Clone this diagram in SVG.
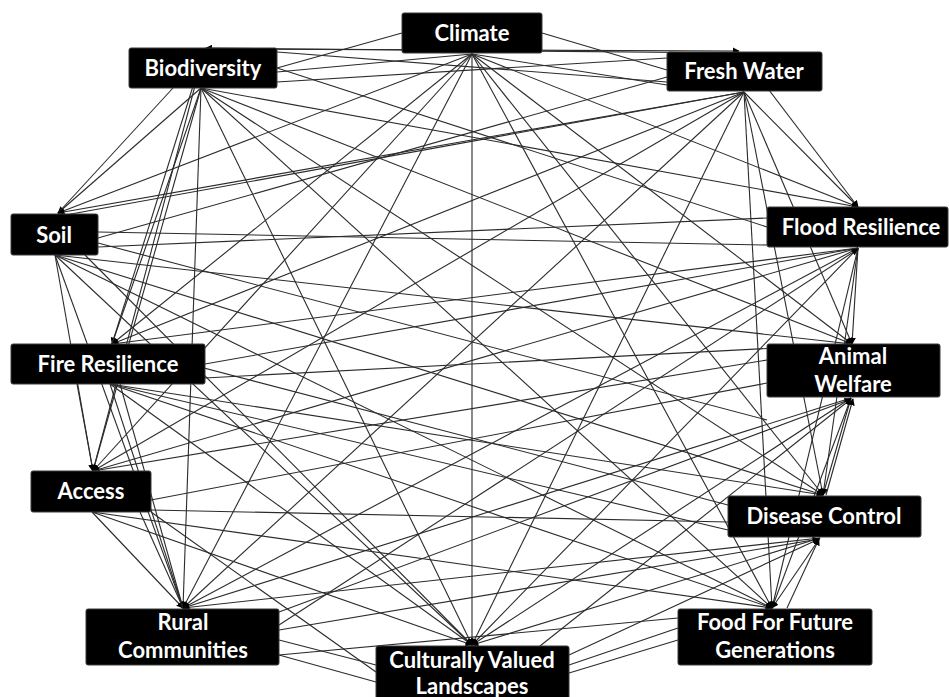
<svg xmlns="http://www.w3.org/2000/svg" width="949" height="697" viewBox="0 0 949 697">
<style>
.bg{fill:#ffffff}
#connectors line{stroke:#2b2b2b;stroke-width:1.1;fill:none}
#connectors line.a{marker-end:url(#arr)}
.box{fill:#000000;stroke:#3a3a3a;stroke-width:1}
.lbl{font-family:Lato,"Open Sans","Liberation Sans",sans-serif;font-weight:bold;font-size:22px;fill:#ffffff;text-anchor:middle}
</style>
<defs>
<marker id="arr" viewBox="0 0 10 10" refX="9" refY="5" markerWidth="7" markerHeight="7" orient="auto" markerUnits="userSpaceOnUse">
<path d="M0,0 L10,5 L0,10 z" fill="#000"/>
</marker>
</defs>
<rect class="bg" x="0" y="0" width="949" height="697"/>
<g id="connectors">
<!-- Climate -->
<line class="a" x1="472" y1="54" x2="58" y2="213"/>
<line class="a" x1="472" y1="54" x2="112" y2="344"/>
<line class="a" x1="472" y1="54" x2="93" y2="471"/>
<line class="a" x1="472" y1="54" x2="183" y2="608"/>
<line class="a" x1="472" y1="54" x2="472" y2="645"/>
<line class="a" x1="472" y1="54" x2="772" y2="608"/>
<line class="a" x1="472" y1="54" x2="823" y2="495"/>
<line class="a" x1="472" y1="54" x2="852" y2="344"/>
<line class="a" x1="472" y1="54" x2="858" y2="207"/>
<line x1="472" y1="54" x2="667" y2="85"/>
<line x1="472" y1="54" x2="277" y2="72"/>
<line x1="402" y1="33" x2="277" y2="68"/>
<line x1="542" y1="33" x2="667" y2="70"/>
<line class="a" x1="740" y1="53" x2="206" y2="48"/>
<line class="a" x1="206" y1="49" x2="739" y2="51"/>
<!-- Biodiversity -->
<line class="a" x1="201" y1="88" x2="58" y2="213"/>
<line class="a" x1="201" y1="88" x2="112" y2="344"/>
<line class="a" x1="201" y1="88" x2="93" y2="471"/>
<line class="a" x1="201" y1="88" x2="183" y2="608"/>
<line class="a" x1="201" y1="88" x2="472" y2="645"/>
<line class="a" x1="201" y1="88" x2="772" y2="608"/>
<line class="a" x1="201" y1="88" x2="823" y2="495"/>
<line class="a" x1="201" y1="88" x2="852" y2="344"/>
<line class="a" x1="201" y1="88" x2="858" y2="207"/>
<line x1="205" y1="48" x2="112" y2="344"/>
<line x1="205" y1="48" x2="93" y2="471"/>
<line x1="277" y1="68" x2="767" y2="227"/>
<line x1="173" y1="88" x2="58" y2="213"/>
<!-- Fresh Water -->
<line class="a" x1="744" y1="92" x2="58" y2="213"/>
<line x1="744" y1="92" x2="60" y2="216"/>
<line class="a" x1="744" y1="92" x2="112" y2="344"/>
<line class="a" x1="744" y1="92" x2="93" y2="471"/>
<line class="a" x1="744" y1="92" x2="183" y2="608"/>
<line class="a" x1="744" y1="92" x2="472" y2="645"/>
<line class="a" x1="744" y1="92" x2="772" y2="608"/>
<line class="a" x1="744" y1="92" x2="823" y2="495"/>
<line class="a" x1="744" y1="92" x2="852" y2="344"/>
<line class="a" x1="744" y1="92" x2="858" y2="207"/>
<line class="a" x1="740" y1="52" x2="858" y2="207"/>
<line x1="667" y1="77" x2="98" y2="238"/>
<line x1="667" y1="58" x2="277" y2="82"/>
<line x1="667" y1="82" x2="277" y2="52"/>
<!-- Soil -->
<line class="a" x1="55" y1="255" x2="93" y2="471"/>
<line class="a" x1="55" y1="255" x2="183" y2="608"/>
<line class="a" x1="55" y1="255" x2="472" y2="645"/>
<line class="a" x1="55" y1="255" x2="772" y2="608"/>
<line class="a" x1="55" y1="255" x2="823" y2="495"/>
<line class="a" x1="55" y1="255" x2="852" y2="344"/>
<line x1="98" y1="232" x2="767" y2="245"/>
<line x1="98" y1="247" x2="767" y2="218"/>
<line x1="98" y1="243" x2="767" y2="420"/>
<line x1="85" y1="255" x2="472" y2="645"/>
<!-- Fire Resilience -->
<line class="a" x1="77" y1="384" x2="93" y2="471"/>
<line class="a" x1="110" y1="384" x2="183" y2="608"/>
<line class="a" x1="110" y1="384" x2="472" y2="645"/>
<line class="a" x1="110" y1="384" x2="772" y2="608"/>
<line x1="110" y1="384" x2="728" y2="530"/>
<line class="a" x1="110" y1="384" x2="823" y2="495"/>
<line x1="205" y1="378" x2="852" y2="344"/>
<line x1="120" y1="384" x2="183" y2="608"/>
<!-- Access -->
<line class="a" x1="92" y1="512" x2="183" y2="608"/>
<line class="a" x1="92" y1="512" x2="472" y2="645"/>
<line class="a" x1="92" y1="512" x2="772" y2="608"/>
<line x1="151" y1="510" x2="728" y2="522"/>
<line x1="151" y1="500" x2="767" y2="383"/>
<line x1="151" y1="512" x2="376" y2="672"/>
<line x1="140" y1="512" x2="183" y2="608"/>
<!-- Flood Resilience -->
<line class="a" x1="858" y1="248" x2="93" y2="471"/>
<line class="a" x1="858" y1="248" x2="112" y2="344"/>
<line class="a" x1="858" y1="248" x2="183" y2="608"/>
<line class="a" x1="858" y1="248" x2="472" y2="645"/>
<line class="a" x1="858" y1="248" x2="772" y2="608"/>
<line class="a" x1="858" y1="248" x2="823" y2="495"/>
<line class="a" x1="858" y1="248" x2="852" y2="344"/>
<line x1="858" y1="248" x2="205" y2="364"/>
<!-- Animal Welfare -->
<line class="a" x1="851" y1="398" x2="823" y2="495"/>
<line class="a" x1="851" y1="398" x2="772" y2="608"/>
<line class="a" x1="851" y1="398" x2="472" y2="645"/>
<line class="a" x1="851" y1="398" x2="183" y2="608"/>
<line class="a" x1="826" y1="495" x2="853" y2="399"/>
<line x1="767" y1="360" x2="93" y2="471"/>
<!-- Disease Control -->
<line class="a" x1="820" y1="538" x2="772" y2="608"/>
<line class="a" x1="820" y1="538" x2="472" y2="645"/>
<line class="a" x1="820" y1="538" x2="183" y2="608"/>
<line class="a" x1="787" y1="608" x2="819" y2="539"/>
<line x1="728" y1="505" x2="112" y2="344"/>
<!-- Food / Culturally / Rural -->
<line x1="678" y1="618" x2="279" y2="655"/>
<line x1="678" y1="640" x2="569" y2="673"/>
<line class="a" x1="569" y1="655" x2="819" y2="539"/>
<line class="a" x1="540" y1="646" x2="851" y2="399"/>
<line class="a" x1="279" y1="625" x2="858" y2="249"/>
<line class="a" x1="279" y1="630" x2="819" y2="539"/>
<line x1="279" y1="640" x2="376" y2="665"/>
<line x1="279" y1="655" x2="376" y2="682"/>
<line class="a" x1="279" y1="612" x2="851" y2="399"/>
<line x1="569" y1="665" x2="678" y2="628"/>
</g>
<g id="climate"><rect class="box" x="402" y="13" width="140" height="40" rx="2"/><text class="lbl" x="472" y="41">Climate</text></g>
<g id="biodiversity"><rect class="box" x="129" y="48" width="148" height="40" rx="2"/><text class="lbl" x="203" y="76">Biodiversity</text></g>
<g id="fresh-water"><rect class="box" x="667" y="52" width="155" height="39" rx="2"/><text class="lbl" x="744" y="79">Fresh Water</text></g>
<g id="soil"><rect class="box" x="11" y="214" width="87" height="41" rx="2"/><text class="lbl" x="54" y="243">Soil</text></g>
<g id="flood-resilience"><rect class="box" x="767" y="207" width="181" height="40" rx="2"/><text class="lbl" x="861" y="235">Flood Resilience</text></g>
<g id="fire-resilience"><rect class="box" x="11" y="344" width="194" height="40" rx="2"/><text class="lbl" x="108" y="372">Fire Resilience</text></g>
<g id="animal-welfare"><rect class="box" x="767" y="344" width="173" height="53" rx="2"/><text class="lbl" x="853" y="364">Animal</text><text class="lbl" x="853" y="392">Welfare</text></g>
<g id="access"><rect class="box" x="31" y="471" width="120" height="41" rx="2"/><text class="lbl" x="91" y="499">Access</text></g>
<g id="disease-control"><rect class="box" x="728" y="496" width="193" height="41" rx="2"/><text class="lbl" x="824" y="524">Disease Control</text></g>
<g id="rural-communities"><rect class="box" x="86" y="609" width="193" height="56" rx="2"/><text class="lbl" x="183" y="630">Rural</text><text class="lbl" x="183" y="658">Communities</text></g>
<g id="food-for-future-generations"><rect class="box" x="678" y="609" width="194" height="56" rx="2"/><text class="lbl" x="775" y="630">Food For Future</text><text class="lbl" x="775" y="658">Generations</text></g>
<g id="culturally-valued-landscapes"><rect class="box" x="376" y="646" width="193" height="60" rx="2"/><text class="lbl" x="472" y="668">Culturally Valued</text><text class="lbl" x="472" y="694">Landscapes</text></g>
</svg>
